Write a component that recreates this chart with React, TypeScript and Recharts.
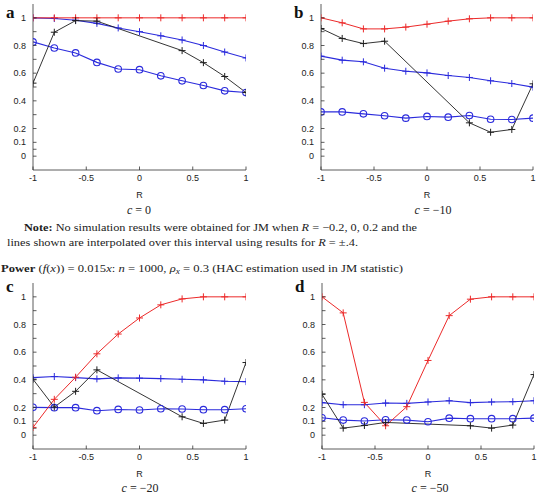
import React from 'react';
import { LineChart, Line, XAxis, YAxis } from 'recharts';

// Correlation values R at which each statistic was simulated
const R_VALUES = [-1, -0.8, -0.6, -0.4, -0.2, 0, 0.2, 0.4, 0.6, 0.8, 1];
const X_TICKS = [-1, -0.5, 0, 0.5, 1];
const Y_TICKS = [0, 0.05, 0.1, 0.2, 0.3, 0.4, 0.5, 0.6, 0.7, 0.8, 0.9, 1];
const Y_LABELLED = [0, 0.1, 0.2, 0.4, 0.6, 0.8, 1];

// Panel a: c = 0
const redA = [1, 1, 1, 1, 1, 1, 1, 1, 1, 1, 1];
const blackA = [0.528, 0.896, 0.98, 0.976, null, null, null, 0.763, 0.676, 0.576, 0.46];
const plusA = [1.0, 0.995, 0.983, 0.96, 0.927, 0.9, 0.87, 0.84, 0.8, 0.753, 0.71];
const circleA = [0.826, 0.782, 0.746, 0.678, 0.63, 0.625, 0.581, 0.545, 0.511, 0.472, 0.46];

// Panel b: c = -10
const redB = [1.0, 0.964, 0.92, 0.92, 0.933, 0.954, 0.976, 0.993, 1, 1, 1];
const blackB = [0.923, 0.851, 0.814, 0.831, null, null, null, 0.241, 0.173, 0.193, 0.523];
const plusB = [0.723, 0.694, 0.682, 0.636, 0.614, 0.602, 0.583, 0.569, 0.545, 0.525, 0.499];
const circleB = [0.32, 0.32, 0.306, 0.292, 0.275, 0.287, 0.282, 0.294, 0.267, 0.265, 0.275];

// Panel c: c = -20
const redC = [0.056, 0.259, 0.419, 0.588, 0.731, 0.847, 0.942, 0.985, 1, 1, 1];
const blackC = [0.404, 0.203, 0.317, 0.472, null, null, null, 0.133, 0.085, 0.109, 0.525];
const plusC = [0.416, 0.424, 0.416, 0.407, 0.414, 0.412, 0.409, 0.404, 0.4, 0.39, 0.387];
const circleC = [0.201, 0.199, 0.199, 0.177, 0.186, 0.182, 0.191, 0.189, 0.184, 0.184, 0.191];

// Panel d: c = -50
const redD = [1, 0.884, 0.237, 0.068, 0.206, 0.54, 0.864, 0.983, 1, 1, 1];
const blackD = [0.295, 0.051, 0.07, 0.092, null, null, null, 0.068, 0.051, 0.073, 0.438];
const plusD = [0.235, 0.22, 0.22, 0.232, 0.23, 0.24, 0.249, 0.235, 0.24, 0.242, 0.249];
const circleD = [0.126, 0.109, 0.102, 0.111, 0.109, 0.097, 0.123, 0.119, 0.119, 0.119, 0.123];

const RED = '#ec2a2a';
const BLUE = '#2b2bdc';
const BLACK = '#1e1e1e';
const AXIS = '#333333';
const TICK_FONT = '"Liberation Sans", Arial, sans-serif';
const SERIF = '"Liberation Serif", "DejaVu Serif", serif';
const Y_GAP = 7;
const X_GAP = 4;

type Series = (number | null)[];

const buildRows = (red: Series, black: Series, plus: Series, circle: Series) =>
  R_VALUES.map((r, i) => ({ r, red: red[i], black: black[i], plus: plus[i], circle: circle[i] }));

const plusDot = (color: string) => (props: any) => {
  const { cx, cy, index } = props;
  if (cx == null || cy == null || props.value == null || props.payload?.[props.dataKey] == null) {
    return <g key={`p-${index}`} />;
  }
  const s = 3.5;
  return (
    <path
      key={`p-${index}`}
      d={`M${cx - s},${cy}H${cx + s}M${cx},${cy - s}V${cy + s}`}
      stroke={color}
      strokeWidth={1}
      fill="none"
    />
  );
};

const circleDot = (color: string) => (props: any) => {
  const { cx, cy, index } = props;
  if (cx == null || cy == null) return <g key={`c-${index}`} />;
  return <circle key={`c-${index}`} cx={cx} cy={cy} r={3.3} stroke={color} strokeWidth={1.1} fill="none" />;
};

const YTick = (props: any) => {
  const { x, y, payload } = props;
  const axisX = x + Y_GAP;
  const labelled = Y_LABELLED.includes(payload.value);
  return (
    <g>
      <line x1={axisX} x2={axisX + 3.5} y1={y} y2={y} stroke={AXIS} strokeWidth={0.8} />
      {labelled && (
        <text x={x} y={y} dy="0.35em" textAnchor="end" fontSize={9} fontFamily={TICK_FONT} fill="#222">
          {String(payload.value)}
        </text>
      )}
    </g>
  );
};

const XTick = (props: any) => {
  const { x, y, payload } = props;
  const axisY = y - X_GAP;
  return (
    <g>
      <line x1={x} x2={x} y1={axisY} y2={axisY - 3.5} stroke={AXIS} strokeWidth={0.8} />
      <text x={x} y={y} dy="0.8em" textAnchor="middle" fontSize={9} fontFamily={TICK_FONT} fill="#222">
        {String(payload.value)}
      </text>
    </g>
  );
};

type PanelProps = {
  left: number;
  top: number;
  yAxisWidth: number;
  marginTop: number;
  marginRight: number;
  red: Series;
  black: Series;
  plus: Series;
  circle: Series;
};

const Panel = ({ left, top, yAxisWidth, marginTop, marginRight, red, black, plus, circle }: PanelProps) => {
  const rows = buildRows(red, black, plus, circle);
  const plotHeight = 166;
  const xAxisHeight = 30;
  return (
    <div style={{ position: 'absolute', left, top }}>
      <LineChart
        width={270}
        height={marginTop + plotHeight + xAxisHeight}
        data={rows}
        margin={{ top: marginTop, right: marginRight, left: 0, bottom: 0 }}
      >
        <XAxis
          type="number"
          dataKey="r"
          domain={[-1, 1]}
          ticks={X_TICKS}
          allowDataOverflow
          height={xAxisHeight}
          tickSize={0}
          tickMargin={X_GAP}
          tickLine={false}
          tick={<XTick />}
          stroke={AXIS}
          strokeWidth={0.8}
          label={{ value: 'R', position: 'insideBottom', offset: 2, fontSize: 9, fontFamily: TICK_FONT, fill: '#222' }}
        />
        <YAxis
          type="number"
          domain={[-0.1, 1.1]}
          ticks={Y_TICKS}
          allowDataOverflow
          interval={0}
          width={yAxisWidth}
          tickSize={0}
          tickMargin={Y_GAP}
          tickLine={false}
          tick={<YTick />}
          stroke={AXIS}
          strokeWidth={0.8}
        />
        <Line
          dataKey="circle"
          stroke={BLUE}
          strokeWidth={1.1}
          dot={circleDot(BLUE)}
          isAnimationActive={false}
        />
        <Line
          dataKey="plus"
          stroke={BLUE}
          strokeWidth={1.1}
          dot={plusDot(BLUE)}
          isAnimationActive={false}
        />
        <Line
          dataKey="red"
          stroke={RED}
          strokeWidth={1}
          dot={plusDot(RED)}
          isAnimationActive={false}
        />
        <Line
          dataKey="black"
          stroke={BLACK}
          strokeWidth={0.9}
          connectNulls
          dot={plusDot(BLACK)}
          isAnimationActive={false}
        />
      </LineChart>
    </div>
  );
};

const Caption = ({ x, y, value }: { x: number; y: number; value: string }) => (
  <text x={x} y={y} textAnchor="middle" fontFamily={SERIF} fontSize={12} fill="#222">
    <tspan fontStyle="italic">c</tspan>
    <tspan> = {value}</tspan>
  </text>
);

const Letter = ({ x, y, value }: { x: number; y: number; value: string }) => (
  <text x={x} y={y} fontFamily={SERIF} fontSize={17} fontWeight="bold" fill="#111">
    {value}
  </text>
);

export default function App() {
  return (
    <div style={{ position: 'absolute', left: 0, top: 0, width: 540, height: 496, background: '#fff', overflow: 'hidden' }}>
      <svg width={540} height={496} style={{ position: 'absolute', left: 0, top: 0 }}>
        <Letter x={6} y={18} value="a" />
        <Letter x={294} y={18} value="b" />
        <Letter x={6} y={292} value="c" />
        <Letter x={295} y={292} value="d" />
        <Caption x={139} y={214} value="0" />
        <Caption x={433} y={214} value="−10" />
        <Caption x={140} y={492} value="−20" />
        <Caption x={430} y={492} value="−50" />
        <text x={24} y={231} fontFamily={SERIF} fontSize={11} fill="#222" textLength={393} lengthAdjust="spacingAndGlyphs">
          <tspan fontWeight="bold">Note:</tspan>
          <tspan> No simulation results were obtained for JM when </tspan>
          <tspan fontStyle="italic">R</tspan>
          <tspan> = −0.2, 0, 0.2 and the</tspan>
        </text>
        <text x={7} y={246} fontFamily={SERIF} fontSize={11} fill="#222" textLength={351} lengthAdjust="spacingAndGlyphs">
          <tspan>lines shown are interpolated over this interval using results for </tspan>
          <tspan fontStyle="italic">R</tspan>
          <tspan> = ±.4.</tspan>
        </text>
        <text x={1} y={272} fontFamily={SERIF} fontSize={11} fill="#222" textLength={402} lengthAdjust="spacingAndGlyphs">
          <tspan fontWeight="bold">Power</tspan>
          <tspan> (</tspan>
          <tspan fontStyle="italic">f</tspan>
          <tspan>(</tspan>
          <tspan fontStyle="italic">x</tspan>
          <tspan>)) = 0.015</tspan>
          <tspan fontStyle="italic">x</tspan>
          <tspan>: </tspan>
          <tspan fontStyle="italic">n</tspan>
          <tspan> = 1000, </tspan>
          <tspan fontStyle="italic">ρ</tspan>
          <tspan fontStyle="italic" fontSize={8} dy={2}>x</tspan>
          <tspan dy={-2}> = 0.3 (HAC estimation used in JM statistic)</tspan>
        </text>
      </svg>
      <Panel left={0} top={0} yAxisWidth={33} marginTop={4} marginRight={24} red={redA} black={blackA} plus={plusA} circle={circleA} />
      <Panel left={270} top={0} yAxisWidth={51} marginTop={4} marginRight={7} red={redB} black={blackB} plus={plusB} circle={circleB} />
      <Panel left={0} top={270} yAxisWidth={33} marginTop={13} marginRight={24} red={redC} black={blackC} plus={plusC} circle={circleC} />
      <Panel left={270} top={270} yAxisWidth={52} marginTop={13} marginRight={6} red={redD} black={blackD} plus={plusD} circle={circleD} />
    </div>
  );
}
